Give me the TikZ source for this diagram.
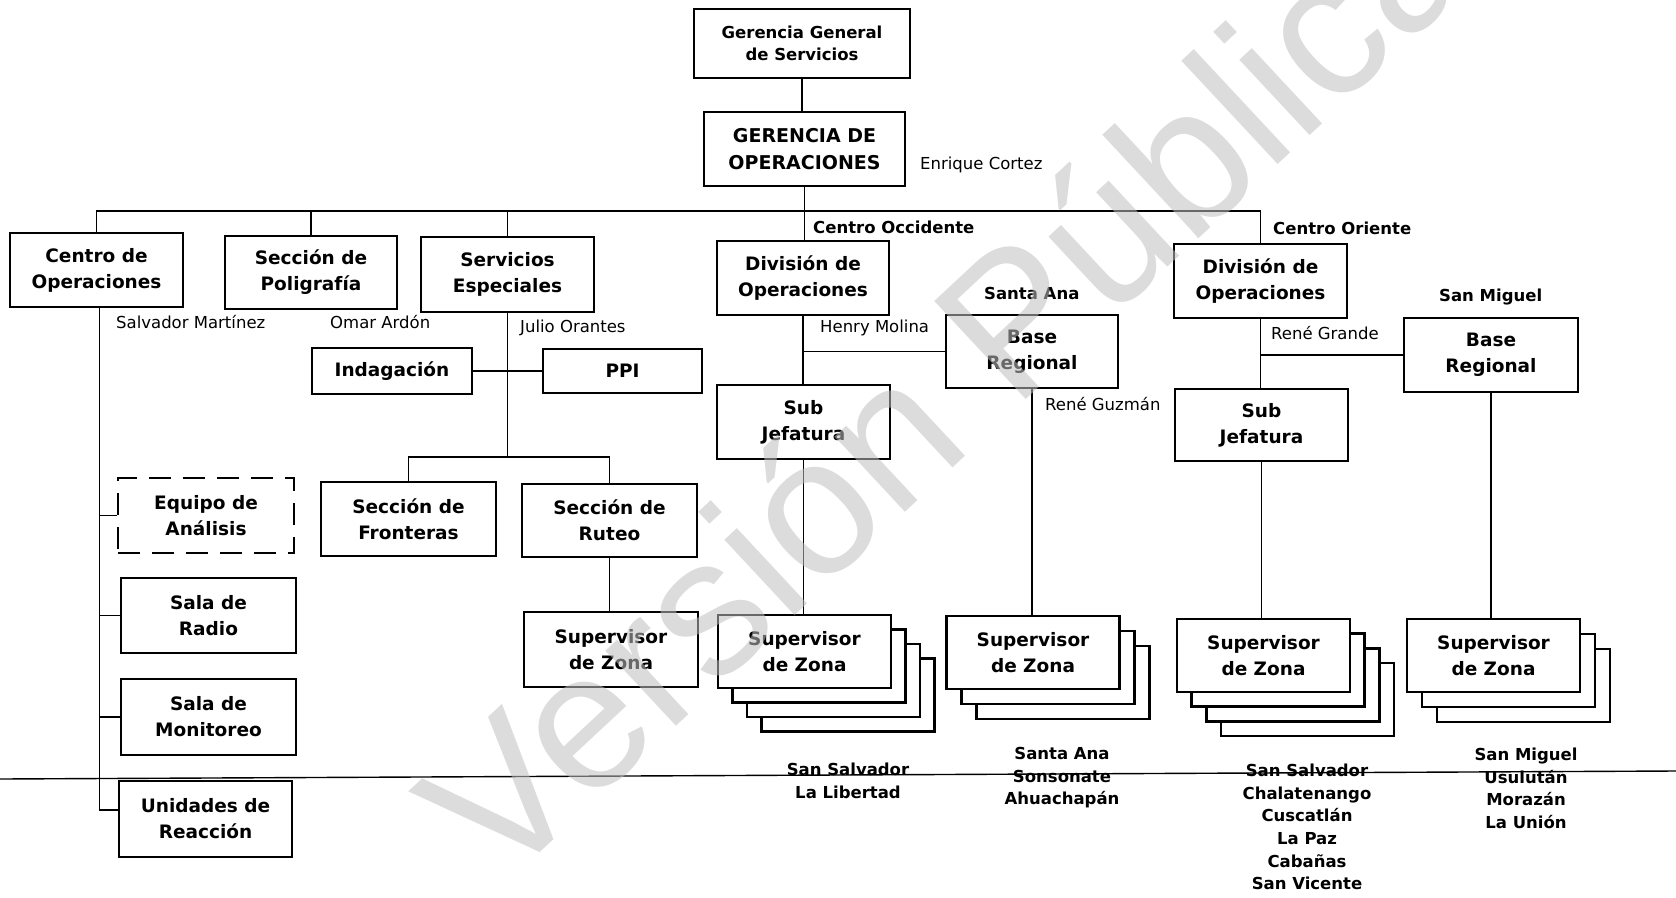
\documentclass[tikz,border=0pt]{standalone}
\usepackage{fontspec}
\setmainfont{DejaVu Sans}
\newfontfamily\wmfont{Liberation Sans}
\usetikzlibrary{calc}
\begin{document}
\begin{tikzpicture}[x=1pt,y=-1pt,
  box/.style={draw, line width=2.7pt, fill=white, inner sep=0pt, align=center,
    font=\bfseries\fontsize{18.5}{26}\selectfont},
  sz/.style 2 args={minimum width=#1pt, minimum height=#2pt},
  zbox/.style={draw, line width=2.7pt, fill=white, inner sep=0pt, minimum width=173pt, minimum height=73pt},
  conn/.style={line width=1.8pt},
  lab/.style={font=\fontsize{16.5}{20}\selectfont, inner sep=0pt, anchor=west},
  blab/.style={font=\bfseries\fontsize{16.5}{20}\selectfont, inner sep=0pt, anchor=west},
  zlist/.style={font=\bfseries\fontsize{16.5}{22.6}\selectfont, align=center, inner sep=0pt, anchor=north},
  wm/.style={font=\wmfont\fontsize{195}{195}\selectfont, text=black!25, text opacity=0.55,
    rotate=43, anchor=base west, inner sep=0pt}
]
\useasboundingbox (0,0) rectangle (1676,897);

% long scan line
\coordinate (h0) at (0,779);
\coordinate (h1) at (1676,771);
\draw[line width=1.4pt] (h0) -- (h1);

% top
\node[box, font=\bfseries\fontsize{16.5}{21.7}\selectfont, sz={216}{69}] (gg) at (802,43.5) {Gerencia General\\de Servicios};
\node[box, font=\bfseries\fontsize{19}{26.6}\selectfont, sz={201}{74}] (gdo) at (804.5,149) {GERENCIA DE\\OPERACIONES};

% second level
\node[box, sz={173}{74}] (centro) at (96.5,270) {Centro de\\Operaciones};
\node[box, sz={172}{73}] (poli) at (311,272.5) {Sección de\\Poligrafía};
\node[box, sz={173}{75}] (serv) at (507.5,274.5) {Servicios\\Especiales};
\node[box, sz={172}{74}] (div1) at (803,278) {División de\\Operaciones};
\node[box, sz={173}{74}] (div2) at (1260.5,281) {División de\\Operaciones};

\node[box, sz={172}{73}] (br1) at (1032,351.5) {Base\\Regional};
\node[box, sz={174}{74}] (br2) at (1491,355) {Base\\Regional};
\node[box, sz={173}{74}] (sj1) at (803.5,422) {Sub\\Jefatura};
\node[box, sz={173}{72}] (sj2) at (1261.5,425) {Sub\\Jefatura};

\node[box, sz={160}{46}] (indag) at (392,371) {Indagación};
\node[box, sz={159}{44}] (ppi) at (622.5,371) {PPI};
\node[box, sz={175}{74}] (fron) at (408.5,519) {Sección de\\Fronteras};
\node[box, sz={175}{73}] (ruteo) at (609.5,520.5) {Sección de\\Ruteo};
\node[box, sz={174}{75}] (supR) at (611,649.5) {Supervisor\\de Zona};

\node[box, dash pattern=on 22pt off 12pt, sz={176}{75}] (equipo) at (206,515.5) {Equipo de\\Análisis};
\node[box, sz={175}{75}] (radio) at (208.5,615.5) {Sala de\\Radio};
\node[box, sz={175}{76}] (monit) at (208.5,717) {Sala de\\Monitoreo};
\node[box, sz={173}{76}] (unid) at (205.5,819) {Unidades de\\Reacción};

% stacks of Supervisor de Zona
\foreach \i in {3,2,1} \node[zbox] (s1b\i) at (804.5+14.5*\i,651.5+14.5*\i) {};
\node[box, sz={173}{73}] (s1) at (804.5,651.5) {Supervisor\\de Zona};
\foreach \i in {2,1} \node[zbox] (s2b\i) at (1033+15*\i,652.5+15*\i) {};
\node[box, sz={173}{73}] (s2) at (1033,652.5) {Supervisor\\de Zona};
\foreach \i in {3,2,1} \node[zbox] (s3b\i) at (1263.5+14.7*\i,655.5+14.7*\i) {};
\node[box, sz={173}{73}] (s3) at (1263.5,655.5) {Supervisor\\de Zona};
\foreach \i in {2,1} \node[zbox] (s4b\i) at (1493.5+15*\i,655.5+15*\i) {};
\node[box, sz={173}{73}] (s4) at (1493.5,655.5) {Supervisor\\de Zona};

% connectors
\coordinate (busy) at (0,211);
\draw[conn] (gg.south) -- (gg.south |- gdo.north);
\draw[conn] (gdo.south) -- (gdo.south |- div1.north);
\draw[conn] (centro.north) -- (centro.north |- busy) -- (div2.north |- busy) -- (div2.north);
\draw[conn] (poli.north) -- (poli.north |- busy);
\draw[conn] (serv.north) -- (serv.north |- busy);

\coordinate (cv) at ([xshift=3pt]centro.south);
\draw[conn] (cv) |- ([yshift=9pt]unid.west);
\draw[conn] (cv |- equipo.west) -- (equipo.west);
\draw[conn] (cv |- radio.west) -- (radio.west);
\draw[conn] (cv |- monit.west) -- (monit.west);

\path (serv.south) ++(0,144) coordinate (split);
\draw[conn] (serv.south) -- (split);
\draw[conn] (fron.north) |- (split) -| (ruteo.north);
\draw[conn] (indag.east) -- (ppi.west);
\draw[conn] (ruteo.south) -- (ruteo.south |- supR.north);

\draw[conn] (div1.south) -- (div1.south |- sj1.north);
\draw[conn] (div1.south |- br1.west) -- (br1.west);
\draw[conn] (sj1.south) -- (sj1.south |- s1.north);
\draw[conn] (br1.south) -- (br1.south |- s2.north);

\draw[conn] (div2.south) -- (div2.south |- sj2.north);
\draw[conn] (div2.south |- br2.west) -- (br2.west);
\draw[conn] (sj2.south) -- (sj2.south |- s3.north);
\draw[conn] (br2.south) -- (br2.south |- s4.north);

% labels
\node[lab] (ec) at (920,165) {Enrique Cortez};
\node[lab] (sm) at (116,322) {Salvador Martínez};
\node[lab] (oa) at (330,322) {Omar Ardón};
\node[lab] (jo) at (520,328) {Julio Orantes};
\node[lab] (hm) at (820,328) {Henry Molina};
\node[lab] (rgz) at (1045,404) {René Guzmán};
\node[lab] (rgr) at (1271,333) {René Grande};
\node[blab] (co) at (813,227) {Centro Occidente};
\node[blab] (cor) at (1273,228) {Centro Oriente};
\node[blab] (sa) at (984,293.5) {Santa Ana};
\node[blab] (smg) at (1439,297) {San Miguel};

\node[zlist] (z1) at (848,763) {San Salvador\\La Libertad};
\node[zlist] (z2) at (1062,747) {Santa Ana\\Sonsonate\\Ahuachapán};
\node[zlist] (z3) at (1307,764) {San Salvador\\Chalatenango\\Cuscatlán\\La Paz\\Cabañas\\San Vicente};
\node[zlist] (z4) at (1526,748) {San Miguel\\Usulután\\Morazán\\La Unión};

% watermark
\node[wm] (wmk) at (499.5,891) {Versión Pública};
\end{tikzpicture}
\end{document}
